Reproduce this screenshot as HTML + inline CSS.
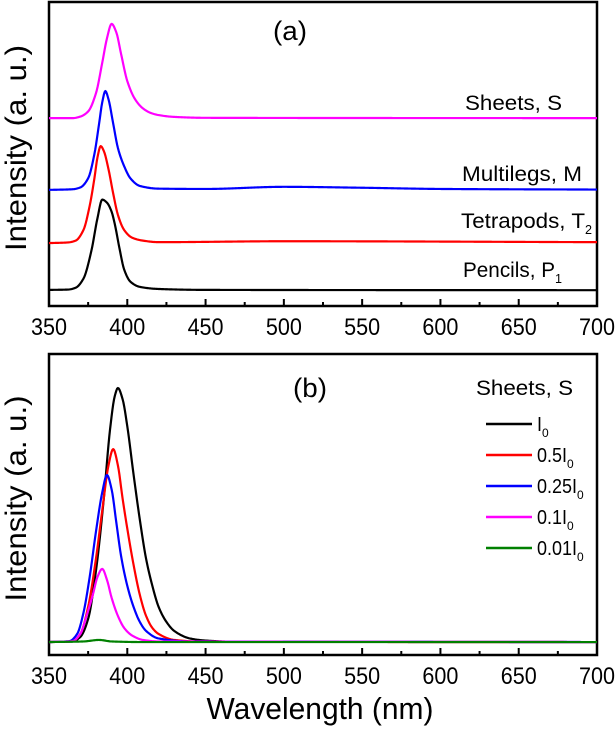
<!DOCTYPE html>
<html><head><meta charset="utf-8"><style>
html,body{margin:0;padding:0;background:#fff;}
svg{display:block;font-family:"Liberation Sans",Arial,sans-serif;}
</style></head><body>
<svg id="chart" width="616" height="730" viewBox="0 0 616 730" xmlns="http://www.w3.org/2000/svg"></svg>
<script>
// ---- data: panel (a) ----
const aPinkWl=[350,365,370,375,380,384,387,390,393,396,400,405,410,415,420,430,450,700];
const aPinkI=[61.8,61.8,62.3,64,70,80,88,92.8,90,83,74,68,65,63.5,62.8,62.2,61.9,61.8];
const aBlueWl=[350,365,370,375,379,382,384,386,388,391,394,398,402,408,420,450,500,550,600,700];
const aBlueI=[38.2,38.4,39,42,50,60,67,70.7,68,60,52,46,42,39.5,38.6,38.5,39.2,38.9,38.5,38.3];
const aRedWl=[350,362,367,372,376,379,381,383,385,388,391,394,398,403,410,420,500,700];
const aRedI=[20.7,20.9,21.5,25,33,42,49,52.6,51,45,37,30,25,22.5,21.5,21,21.3,21];
const aBlackWl=[350,362,367,372,377,381,384,387,390,392,395,398,402,408,420,450,700];
const aBlackI=[5.3,5.4,6,9,18,29,35,34,31,27,19,12,8,6.3,5.6,5.3,5.2];
// ---- data: panel (b) ----
const bBlackWl=[350,365,370,375,380,385,389,392,394,397,400,404,408,412,416,420,425,430,440,450,470,700];
const bBlackI=[4.3,4.5,6,12,28,52,75,86,88.7,85,76,60,45,32,23,16,11,8,5.5,4.8,4.4,4.3];
const bRedWl=[350,365,370,375,380,384,388,391,394,397,400,404,408,412,416,420,430,450,700];
const bRedI=[4.3,4.6,7,16,32,48,63,68.4,63,52,42,30,20,13,9,7,5,4.4,4.3];
const bBlueWl=[350,363,368,372,376,380,384,387,390,393,396,400,404,408,412,420,440,700];
const bBlueI=[4.3,4.6,7,14,26,41,54,59.8,55,44,33,23,16,11,8,5.5,4.5,4.3];
const bPinkWl=[350,365,370,374,378,381,384,387,390,394,398,403,410,420,700];
const bPinkI=[4.3,4.6,7,13,20,26,28.6,25,19,13,9,6.5,5,4.5,4.3];
const bGreenWl=[350,372,382,390,410,700];
const bGreenI=[4.3,4.5,5,4.5,4.3,4.3];
const xTicks=[350,400,450,500,550,600,650,700];
const xTickLabels=["350","400","450","500","550","600","650","700"];

const NS="http://www.w3.org/2000/svg";
const svg=document.getElementById('chart');
function mk(tag,attrs,parent){const e=document.createElementNS(NS,tag);for(const k in attrs)e.setAttribute(k,attrs[k]);(parent||svg).appendChild(e);return e;}
const X0=49,X1=597;
function xs(w){return X0+(w-350)/(700-350)*(X1-X0);}
const panels={a:{top:2,bot:306},b:{top:354,bot:655}};
function ys(p,v){return p.bot-v/100*(p.bot-p.top);}
// monotone cubic (Fritsch-Carlson) interpolation, sampled densely
function pathFor(p,wl,iv){
  const n=wl.length,d=[],m=new Array(n);
  for(let i=0;i<n-1;i++)d.push((iv[i+1]-iv[i])/(wl[i+1]-wl[i]));
  m[0]=d[0];m[n-1]=d[n-2];
  for(let i=1;i<n-1;i++){
    if(d[i-1]*d[i]<=0)m[i]=0;
    else{const h0=wl[i]-wl[i-1],h1=wl[i+1]-wl[i];const w1=2*h1+h0,w2=h1+2*h0;m[i]=(w1+w2)/(w1/d[i-1]+w2/d[i]);}
  }
  let s="M"+xs(wl[0]).toFixed(2)+","+ys(p,iv[0]).toFixed(2);
  for(let i=0;i<n-1;i++){
    const h=wl[i+1]-wl[i];const steps=Math.max(2,Math.ceil(h*2));
    for(let k=1;k<=steps;k++){
      const t=k/steps,t2=t*t,t3=t2*t;
      const v=(2*t3-3*t2+1)*iv[i]+(t3-2*t2+t)*h*m[i]+(-2*t3+3*t2)*iv[i+1]+(t3-t2)*h*m[i+1];
      s+=" L"+xs(wl[i]+t*h).toFixed(2)+","+ys(p,v).toFixed(2);
    }
  }
  return s;
}
function drawAxes(p,key){
  const g=mk('g',{});
  
  
  const fr=mk('rect',{x:X0,y:p.top,width:X1-X0,height:p.bot-p.top,fill:'none',stroke:'#000','stroke-width':2.5},g);
  
  
  for(let w=375;w<700;w+=25){
    const major=(w%50===0);
    const t=mk('line',{x1:xs(w),x2:xs(w),y1:p.bot,y2:p.bot-(major?7:4),stroke:'#000','stroke-width':2},g);
    
    
  }
  xTicks.forEach((w,i)=>{
    const t=mk('text',{x:xs(w),y:p.bot+29,'font-size':24,'text-anchor':'middle',fill:'#000',textLength:36,lengthAdjust:'spacingAndGlyphs'},g);
    t.textContent=xTickLabels[i];
    
    
  });
  const yl=mk('text',{x:0,y:0,'font-size':30,'text-anchor':'middle',fill:'#000',textLength:206,lengthAdjust:'spacingAndGlyphs',transform:'translate(26,'+((p.top+p.bot)/2-6)+') rotate(-90)'},g);
  yl.textContent='Intensity (a. u.)';
  
  
}
function series(p,wl,iv,color,name){
  const e=mk('path',{d:pathFor(p,wl,iv),fill:'none',stroke:color,'stroke-width':2.2,'stroke-linejoin':'round'});
  
  
}
function label(x,y,main,sub,size,len,name,anchor){
  const t=mk('text',{x:x,y:y,'font-size':size,fill:'#000','text-anchor':anchor||'start'});
  
  
  const a=mk('tspan',{textLength:len,lengthAdjust:'spacingAndGlyphs'},t);a.textContent=main;
  if(sub){const s=mk('tspan',{dy:6,'font-size':size*0.6},t);s.textContent=sub;}
}
drawAxes(panels.a,'a');
drawAxes(panels.b,'b');
const pa=panels.a,pb=panels.b;
series(pa,aPinkWl,aPinkI,'#ff00ff','series-sheets');
series(pa,aBlueWl,aBlueI,'#0000ff','series-multilegs');
series(pa,aRedWl,aRedI,'#ff0000','series-tetrapods');
series(pa,aBlackWl,aBlackI,'#000000','series-pencils');
series(pb,bBlackWl,bBlackI,'#000000','series-i0');
series(pb,bRedWl,bRedI,'#ff0000','series-0.5i0');
series(pb,bBlueWl,bBlueI,'#0000ff','series-0.25i0');
series(pb,bPinkWl,bPinkI,'#ff00ff','series-0.1i0');
series(pb,bGreenWl,bGreenI,'#008000','series-0.01i0');
label(273,40,'(a)','',27,34,'panel-a-title');
label(293,397,'(b)','',27,34,'panel-b-title');
label(465,110,'Sheets, S','',21,97,'label-sheets');
label(462,181,'Multilegs, M','',21,120,'label-multilegs');
label(461,228,'Tetrapods, T','2',21,124,'label-tetrapods');
label(463,277,'Pencils, P','1',21,92,'label-pencils');
label(476,395,'Sheets, S','',21,97,'legend-title');
const legNames=['I','0.5I','0.25I','0.1I','0.01I'];
const legLens=[5,30,40,30,40];
const legColors=['#000000','#ff0000','#0000ff','#ff00ff','#008000'];
legNames.forEach((n,i)=>{
  const y=424+i*31;
  const l=mk('line',{x1:486,x2:532,y1:y,y2:y,stroke:legColors[i],'stroke-width':2.4});
  
  
  label(537,y+7,n,'0',20,legLens[i],'legend-entry');
});
const xt=mk('text',{x:320,y:719,'font-size':31,'text-anchor':'middle',fill:'#000',textLength:227,lengthAdjust:'spacingAndGlyphs'});
xt.textContent='Wavelength (nm)';


</script>
</body></html>
